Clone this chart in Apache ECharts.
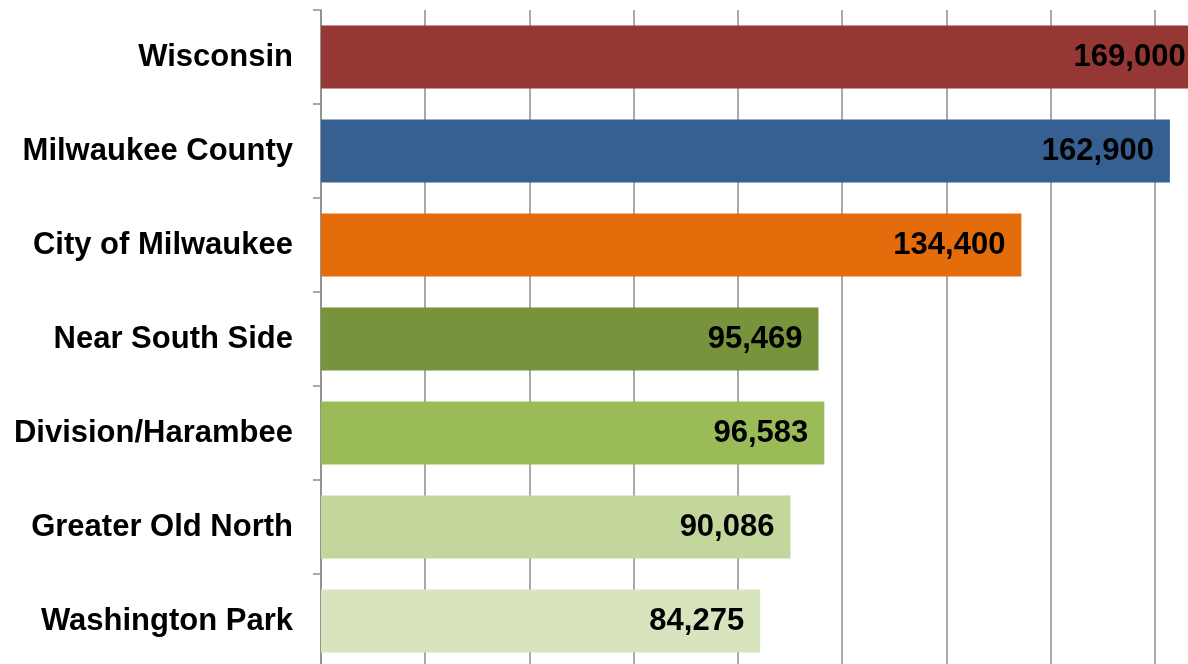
<!DOCTYPE html>
<html>
<head>
<meta charset="utf-8">
<script src="https://cdn.jsdelivr.net/npm/echarts@6/dist/echarts.min.js"></script>
<style>
  html, body { margin: 0; padding: 0; background: #fff; }
  #chart { width: 1188px; height: 664px; }
</style>
</head>
<body>
<div id="chart"></div>
<script>
// categories, top to bottom
const categories = ['Wisconsin', 'Milwaukee County', 'City of Milwaukee', 'Near South Side',
  'Division/Harambee', 'Greater Old North', 'Washington Park']
const values = [169000, 162900, 134400, 95469, 96583, 90086, 84275]
const barColors = ['#953735', '#376092', '#E46C0A', '#77933C', '#9BBB59', '#C3D69B', '#D7E4BD']

const axisMin = 0
const axisMax = 180000
const axisStep = 20000

const chart = echarts.init(document.getElementById('chart'))

const seriesData = values.map((v, i) => ({
  value: v,
  itemStyle: { color: barColors[i] }
}))

chart.setOption({
  animation: false,
  textStyle: { fontFamily: 'Liberation Sans, Arial, sans-serif' },
  grid: {
    left: 321,
    top: 10,
    width: 938, // plot runs past the right edge, like the original
    height: 658,
    outerBoundsMode: 'none'
  },
  xAxis: {
    type: 'value',
    min: axisMin,
    max: axisMax,
    interval: axisStep,
    axisLabel: { show: false },
    axisLine: { show: false },
    axisTick: { show: false },
    splitLine: {
      show: true,
      lineStyle: { color: '#8c8c8c', width: 1.5 }
    }
  },
  yAxis: {
    type: 'category',
    data: categories,
    inverse: true,
    axisLine: {
      show: true,
      lineStyle: { color: '#8c8c8c', width: 1.5 }
    },
    axisTick: {
      show: true,
      length: 8,
      lineStyle: { color: '#8c8c8c', width: 1.5 }
    },
    axisLabel: {
      margin: 28,
      color: '#000',
      fontSize: 31,
      fontWeight: 'bold',
      fontFamily: 'Liberation Sans, Arial, sans-serif'
    }
  },
  series: [{
    type: 'bar',
    barWidth: 63,
    data: seriesData,
    label: {
      show: true,
      position: 'insideRight',
      distance: 16,
      color: '#000',
      fontSize: 31,
      fontWeight: 'bold',
      fontFamily: 'Liberation Sans, Arial, sans-serif',
      formatter: p => p.value.toLocaleString('en-US')
    }
  }]
})
</script>
</body>
</html>
